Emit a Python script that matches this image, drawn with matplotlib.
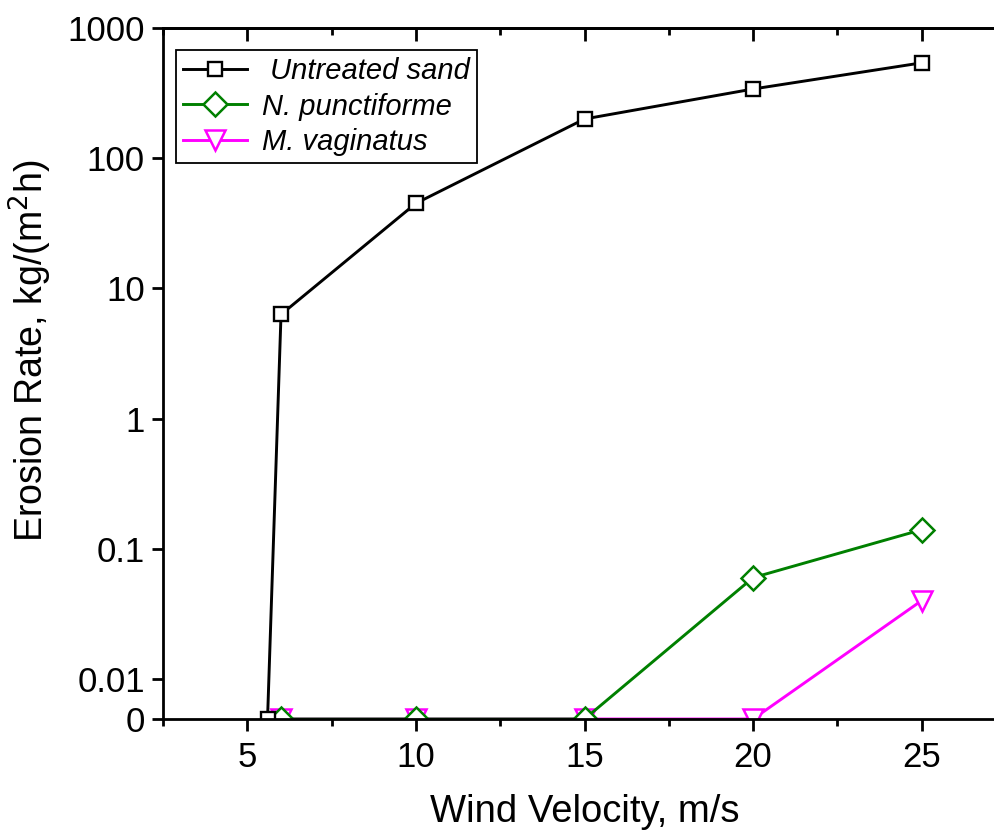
import matplotlib
matplotlib.use("Agg")
import matplotlib.pyplot as plt
from matplotlib.ticker import FixedLocator, FixedFormatter, MultipleLocator, NullLocator

plt.rcParams['font.family'] = ['Liberation Sans', 'DejaVu Sans']

# Data
x_untreated = [5.6, 6, 10, 15, 20, 25]
y_untreated = [0, 6.3, 45, 200, 340, 540]
x_npunct = [6, 10, 15, 20, 25]
y_npunct = [0, 0, 0, 0.06, 0.14]
x_mvag = [6, 10, 15, 20, 25]
y_mvag = [0, 0, 0, 0, 0.04]

labels = [' Untreated sand', 'N. punctiforme', 'M. vaginatus']
yticks = [0, 0.01, 0.1, 1, 10, 100, 1000]
yticklabels = ['0', '0.01', '0.1', '1', '10', '100', '1000']
xticks = [5, 10, 15, 20, 25]

fig = plt.figure(figsize=(9.94, 8.35), dpi=100)
ax = fig.add_axes([163/994, 116/835, (1006-163)/994, (719-28)/835])

lw = 2.1
slw = 2.0
ax.plot(x_mvag, y_mvag, color='#ff00ff', lw=lw, marker='v', ms=14, mfc='white',
        mec='#ff00ff', mew=1.8, label=labels[2], zorder=2)
ax.plot(x_npunct, y_npunct, color='#008000', lw=lw, marker='D', ms=12, mfc='white',
        mec='#008000', mew=1.8, label=labels[1], zorder=2.1)
ax.plot(x_untreated, y_untreated, color='black', lw=lw, marker='s', ms=10.5, mfc='white',
        mec='black', mew=1.7, label=labels[0], zorder=2.2)

ax.set_yscale('symlog', linthresh=0.01, linscale=0.277)
ax.set_ylim(0, 1000)
ax.set_xlim(2.5, 27.5)

ax.yaxis.set_major_locator(FixedLocator(yticks))
ax.yaxis.set_major_formatter(FixedFormatter(yticklabels))
ax.yaxis.set_minor_locator(NullLocator())
ax.xaxis.set_major_locator(FixedLocator(xticks))
ax.xaxis.set_minor_locator(MultipleLocator(2.5))

for s in ['left', 'bottom', 'top']:
    ax.spines[s].set_linewidth(slw)
ax.spines['right'].set_visible(False)

ax.tick_params(axis='both', which='major', labelsize=25, width=slw)
ax.tick_params(axis='x', which='major', direction='out', length=8.5, pad=7)
ax.tick_params(axis='x', which='minor', direction='out', length=5, width=slw)
ax.tick_params(axis='y', which='major', direction='out', length=8, pad=5)

secx = ax.secondary_xaxis('top')
secx.xaxis.set_major_locator(FixedLocator(xticks))
secx.xaxis.set_minor_locator(MultipleLocator(2.5))
secx.tick_params(axis='x', which='major', direction='in', length=9, width=slw, labeltop=False)
secx.tick_params(axis='x', which='minor', direction='in', length=5, width=slw)
secx.spines['top'].set_linewidth(slw)

ax.set_xlabel('Wind Velocity, m/s', fontsize=27.5, labelpad=15)
ax.set_ylabel('Erosion Rate, kg/(m$^2$h)', fontsize=27, labelpad=10)
ax.yaxis.label.set_y(0.533)

handles, labs = ax.get_legend_handles_labels()
order = [2, 1, 0]
leg = ax.legend([handles[i] for i in order], [labs[i] for i in order],
                loc='upper left', bbox_to_anchor=(0.015, 0.968),
                prop={'style': 'italic', 'size': 21}, frameon=True, fancybox=False,
                edgecolor='black', framealpha=1, handlelength=2.2, handletextpad=0.5,
                borderpad=0.25, labelspacing=0.25, borderaxespad=0)
leg.get_frame().set_linewidth(1.3)

fig.savefig('out.png', dpi=100)
